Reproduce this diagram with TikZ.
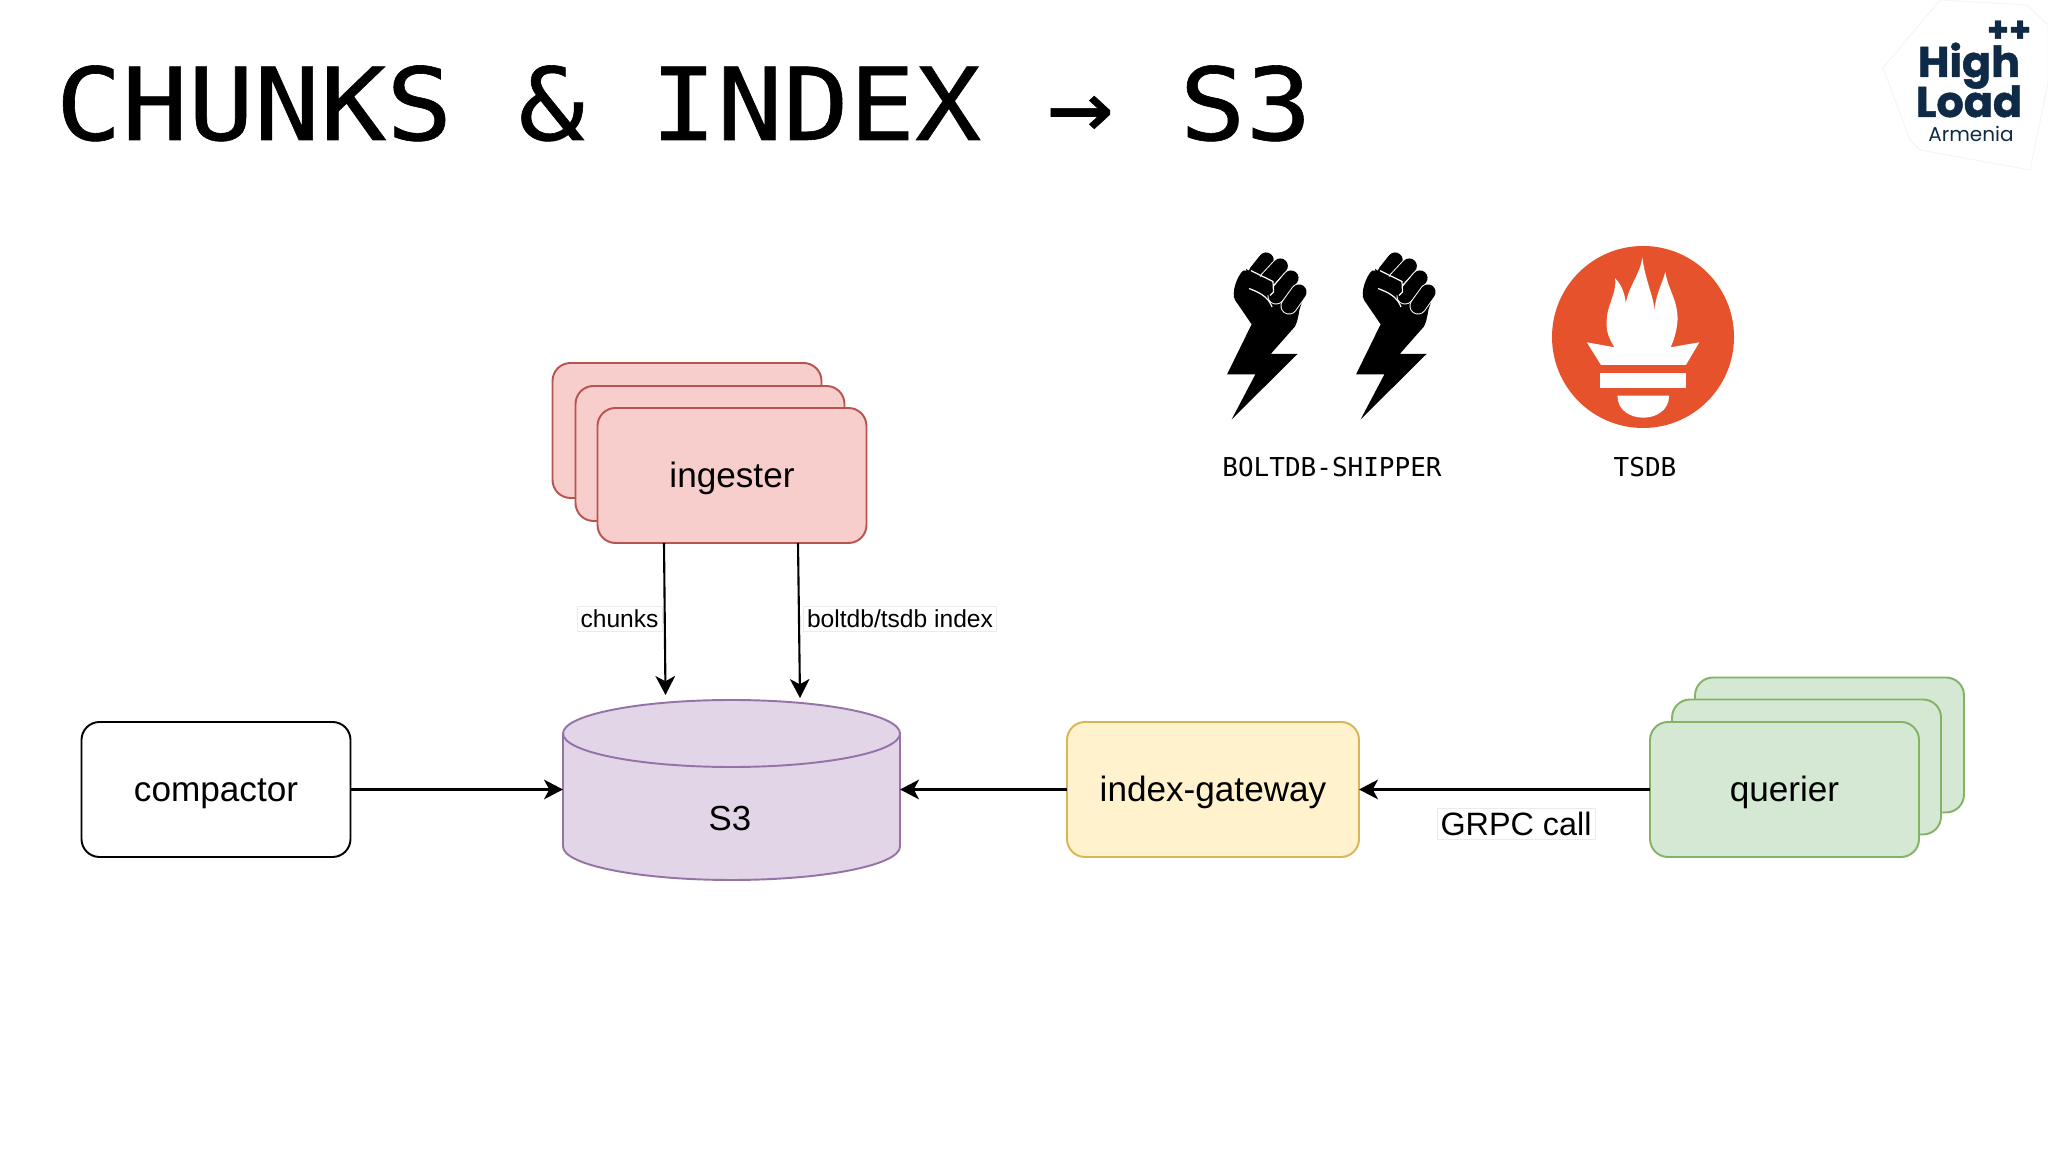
\documentclass[tikz,border=0pt]{standalone}
\usepackage{fontspec}
\setmainfont{Liberation Sans}
\newfontfamily\monofont{DejaVu Sans Mono}
\newfontfamily\titlefont{DejaVu Sans Mono}[FakeBold=0.6,FakeStretch=1.0925]
\newfontfamily\logofont{Poppins}[BoldFeatures={FakeBold=1.2}]
\usetikzlibrary{positioning}
\usetikzlibrary{arrows.meta}
\usetikzlibrary{shapes.geometric}

\definecolor{redfill}{HTML}{F8CECC}
\definecolor{redline}{HTML}{B85450}
\definecolor{purplefill}{HTML}{E1D5E7}
\definecolor{purpleline}{HTML}{9673A6}
\definecolor{yellowfill}{HTML}{FFF2CC}
\definecolor{yellowline}{HTML}{D6B656}
\definecolor{greenfill}{HTML}{D5E8D4}
\definecolor{greenline}{HTML}{82B366}
\definecolor{torchred}{HTML}{E6522C}
\definecolor{logonavy}{HTML}{0F2A47}

\tikzset{
  box/.style={draw, rounded corners=1.8mm, line width=0.55pt, outer sep=0pt, minimum width=26.9mm, minimum height=13.5mm, text height=8.6pt, text depth=2pt, font=\fontsize{10}{12}\selectfont},
  redbox/.style={box, fill=redfill, draw=redline},
  greenbox/.style={box, fill=greenfill, draw=greenline},
  flow/.style={-{Stealth[length=5.4pt,width=5.6pt,inset=1.5pt]}, line width=0.6pt},
  smalllabel/.style={draw=black!8, line width=0.2pt, fill=white, inner sep=1pt, font=\fontsize{7}{9}\selectfont},
  monolabel/.style={font=\monofont\fontsize{7.4}{9}\selectfont},
  logotext/.style={anchor=base, inner sep=0pt, text depth=0pt, text=logonavy},
  fistbolt/.pic={
    \fill[black] (51.7,189.3)--(75.4,144.3)--(47.1,144.3)--(71.6,94.3)--(55,70) .. controls (51,63) and (57,46) .. (63.1,40.7)--(72,40.7)--(86,26)--(121,58)--(122,72)--(119.4,80) .. controls (118,88) and (117,93) .. (114.8,96.7)--(90.7,124)--(117.5,124)--cycle;
    %fingers
    \foreach \xa/\ya/\xb/\yb in {86.1/30/76.5/42, 100.3/36/87.3/50, 111/48/96/66, 119/62/109/76}
      {
      \draw[white, line width=0.25pt+4.6pt, line cap=round] (\xa,\ya)--(\xb,\yb);
      \draw[black, line width=4.3pt, line cap=round] (\xa,\ya)--(\xb,\yb);
      }
    %thumb
    \fill[black] (66,39)--(93,54)--(94,64)--(90,66)--(70,58)--cycle;
    \draw[white, line width=0.35pt] (71,40.7)--(93,51.5)--(93.5,62)--(90,65.5);
    \draw[white, line width=0.35pt] (69,58.5) .. controls (78,62) and (88,66) .. (92,77);
  }
}

\begin{document}
\begin{tikzpicture}[x=0.1mm,y=-0.1mm]
\useasboundingbox (0,0) rectangle (2048,1152);

% title
\node[anchor=base west, inner sep=0pt, font=\titlefont\fontsize{28.6}{36}\selectfont] (title) at (55,140) {CHUNKS \& INDEX → S3};

%%%%%%%%%%%%    logo   %%%%%%%%%%%%
\draw[black!4, line width=0.3pt] (1940,0)--(2027,5)--(2048,25)--(2048,83)--(2030,170)--(1920,150)--(1910,140)--(1883,68)--cycle;
\node[logotext, font=\logofont\bfseries\fontsize{10}{10}\selectfont] (logoplus) at (2009,42) {++};
\node[logotext, font=\logofont\bfseries\fontsize{12.2}{12}\selectfont] (logohigh) at (1969,77) {High};
\node[logotext, font=\logofont\bfseries\fontsize{12.2}{12}\selectfont] (logoload) at (1969,117) {Load};
\node[logotext, font=\logofont\fontsize{5.7}{7}\selectfont] (logoarmenia) at (1971,142) {Armenia};

%%%%%%%%%%%%    fists and torch   %%%%%%%%%%%%
\pic at (1180,230) {fistbolt};
\pic at (1309,230) {fistbolt};
\node[monolabel] (shipper) at (1332,467) {BOLTDB-SHIPPER};

\fill[torchred] (1643,337) circle (91);
\fill[white] (1642.3,257.3) .. controls (1645,280) and (1654,297) .. (1654.6,311.7) .. controls (1655,295) and (1662,285) .. (1665.3,271.7) .. controls (1668,290) and (1678,300) .. (1677.5,320) .. controls (1677,330) and (1674,340) .. (1670.6,347.3)--(1699.3,342.3)--(1685.9,365)--(1601,365)--(1586.8,342.3)--(1614.4,347.3) .. controls (1610,340) and (1606,332) .. (1606.7,323.3) .. controls (1606,305) and (1617,295) .. (1615.1,278.3) .. controls (1622,285) and (1625,295) .. (1625.8,303.3) .. controls (1629,285) and (1640,275) .. (1642.3,257.3)--cycle;
\fill[white] (1600.2,372.7) rectangle (1686.3,388.3);
\fill[white] (1617.4,395.7)--(1669.1,395.7) .. controls (1669,425) and (1617.5,425) .. (1617.4,395.7)--cycle;
\node[monolabel] (tsdb) at (1645,467) {TSDB};

%%%%%%%%%%%%    boxes   %%%%%%%%%%%%
%ingester stack
\node[redbox] (ingesterback) at (687,430.5) {};
\node[redbox] (ingestermid) at (710,453.5) {};
\node[redbox] (ingester) at (732,475.5) {ingester};

%querier stack
\node[greenbox] (querierback) at (1829.5,745) {};
\node[greenbox] (queriermid) at (1806.5,767) {};
\node[greenbox] (querier) at (1784.5,789.5) {querier};

\node[box, fill=white] (compactor) at (216,789.5) {compactor};
\node[box, fill=yellowfill, draw=yellowline, minimum width=29.2mm] (gateway) at (1213,789.5) {index-gateway};

%S3
\node[cylinder, shape border rotate=90, aspect=2.86, anchor=shape center, draw=purpleline, fill=purplefill, line width=0.55pt, outer sep=0pt, minimum width=33.7mm, minimum height=18mm] (s3) at (731.5,790) {};
\node[font=\fontsize{9.9}{12}\selectfont] (s3label) at (730,819) {S3};

%%%%%%%%%%%%    arrows   %%%%%%%%%%%%
\draw[flow] (compactor.east) -- (compactor.east -| s3.west);
\draw[flow] (gateway.west) -- (gateway.west -| s3.east);
\draw[flow] (querier.west) -- (gateway.east);
\draw[flow] ([xshift=-6.8mm]ingester.south) -- ([xshift=-6.6mm,yshift=0.5mm]s3.north);
\draw[flow] ([xshift=6.6mm]ingester.south) -- ([xshift=6.85mm,yshift=0.2mm]s3.north);

% labeling
\node[smalllabel] (chunkslabel) at (619.5,618.5) {chunks};
\node[smalllabel] (indexlabel) at (900,618.5) {boltdb/tsdb index};
\node[draw=black!8, line width=0.2pt, fill=white, inner sep=1pt, font=\fontsize{9.2}{12}\selectfont] (grpclabel) at (1516,824) {GRPC call};

\end{tikzpicture}
\end{document}
